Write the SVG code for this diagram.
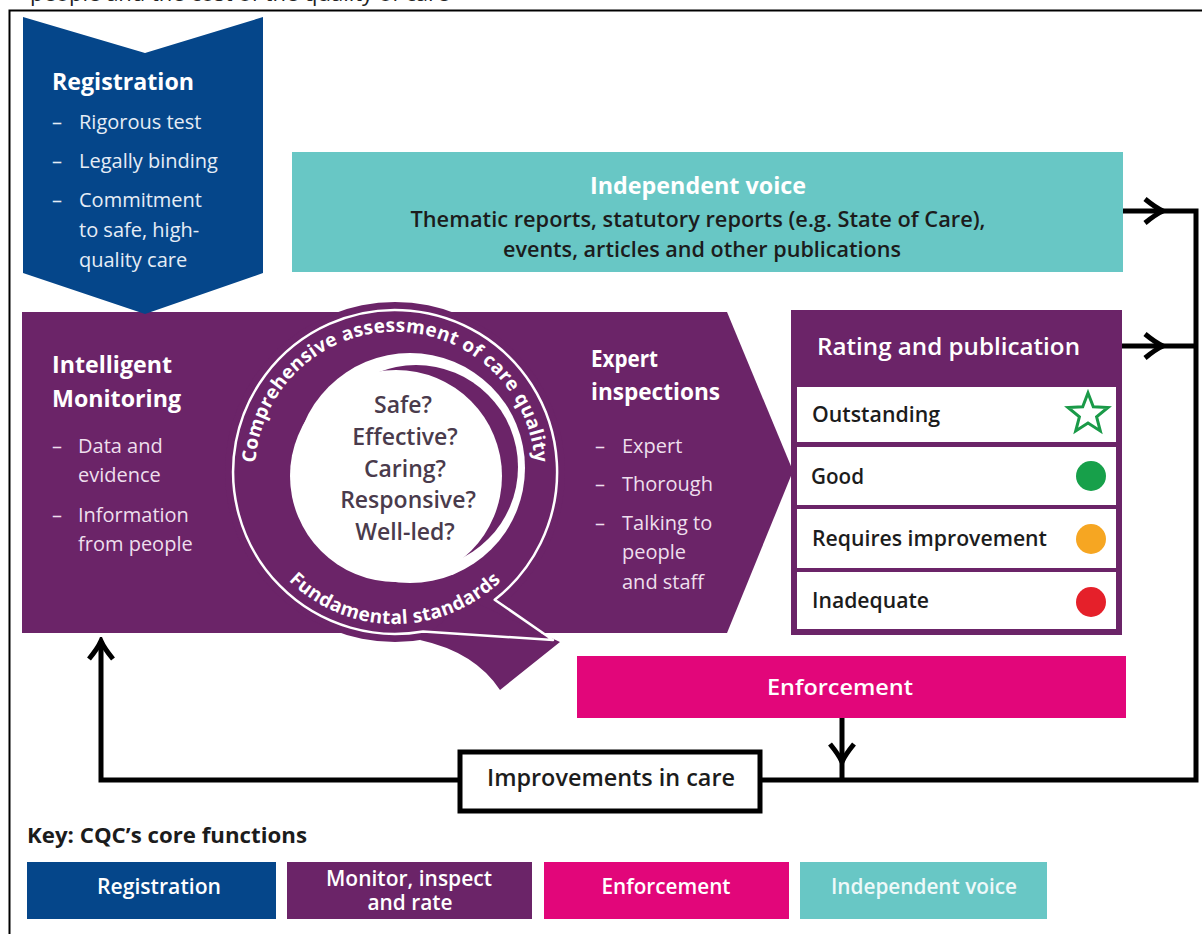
<svg xmlns="http://www.w3.org/2000/svg" width="1202" height="934" viewBox="0 0 1202 934">
<defs>
<style>
 text{font-family:"Open Sans","Noto Sans","DejaVu Sans",sans-serif}
 .b{font-weight:700}
 .sb{font-weight:600}
 .w{fill:#ffffff}
 .lav{fill:#eedfed}
 .lb{fill:#e6edf6}
 .dk{fill:#1c1c1c}
 .q{fill:#4a3b4c;font-weight:600;font-size:23px;text-anchor:middle}
 .row{font-weight:600;font-size:21px;fill:#1c1c1c}
 .ln{fill:none;stroke:#000;stroke-width:5;stroke-linejoin:miter;stroke-linecap:butt}
 .blue{fill:#05468a}
 .purple{fill:#6b2468}
 .pink{fill:#e2067a}
 .teal{fill:#68c7c5}
</style>
<marker id="chev" markerUnits="userSpaceOnUse" viewBox="-24 -16 28 32" markerWidth="28" markerHeight="32" refX="0" refY="0" orient="auto">
 <path d="M-18,-12 Q-7,-3 0,0 Q-7,3 -18,12" fill="none" stroke="#000" stroke-width="5" stroke-miterlimit="10"/>
</marker>
<path id="arcTop" d="M255.2,479.3 A140,140 0 1,1 534.8,479.3"/>
<path id="arcBot" d="M270.5,559.2 A152,152 0 0,0 519.5,559.2"/>
</defs>

<rect width="1202" height="934" fill="#ffffff"/>

<!-- caption line running above the frame, mostly cut off -->
<text x="30" y="0.5" font-size="22" fill="#222">people and the cost of the quality of care</text>

<!-- outer frame -->
<rect x="9.5" y="10.5" width="1200" height="940" fill="none" stroke="#000" stroke-width="2"/>

<!-- connectors -->
<g id="connectors">
 <path class="ln" d="M1123,211 H1163" marker-end="url(#chev)"/>
 <path class="ln" d="M1161,211 H1196 V780 H101 V641" marker-end="url(#chev)"/>
 <path class="ln" d="M1122,346 H1163" marker-end="url(#chev)"/>
 <path class="ln" d="M1161,346 H1196"/>
 <path class="ln" d="M842,718 V762" marker-end="url(#chev)"/>
 <path class="ln" d="M842,760 V780"/>
</g>

<!-- monitor, inspect and rate band -->
<g id="monitor-band">
 <polygon class="purple" points="22,312 727,312 793,471 727,633 22,633"/>
 <text class="b w" x="52" y="373" font-size="23" textLength="120" lengthAdjust="spacingAndGlyphs">Intelligent</text>
 <text class="b w" x="52" y="407" font-size="23" textLength="129" lengthAdjust="spacingAndGlyphs">Monitoring</text>
 <text class="lav" font-size="20">
  <tspan x="52" y="453">–</tspan><tspan x="78" y="453">Data and</tspan>
  <tspan x="78" y="482">evidence</tspan>
  <tspan x="52" y="522">–</tspan><tspan x="78" y="522">Information</tspan>
  <tspan x="78" y="551">from people</tspan>
 </text>
 <text class="b w" x="591" y="367" font-size="23" textLength="67" lengthAdjust="spacingAndGlyphs">Expert</text>
 <text class="b w" x="591" y="400" font-size="23" textLength="129" lengthAdjust="spacingAndGlyphs">inspections</text>
 <text class="lav" font-size="20">
  <tspan x="595" y="453">–</tspan><tspan x="622" y="453">Expert</tspan>
  <tspan x="595" y="491">–</tspan><tspan x="622" y="491">Thorough</tspan>
  <tspan x="595" y="530">–</tspan><tspan x="622" y="530">Talking to</tspan>
  <tspan x="622" y="559">people</tspan>
  <tspan x="622" y="589">and staff</tspan>
 </text>
</g>

<!-- quality "Q" emblem -->
<g id="quality-emblem">
 <circle class="purple" cx="395" cy="472" r="170"/>
 <path class="purple" d="M470,600 L560,642 L500,690 Q475,652 420,640 Z"/>
 <path d="M553,640 L494.7,599.7 A162,162 0 1,0 423.1,631.5 Z" fill="none" stroke="#fff" stroke-width="2.5" stroke-linejoin="round"/>
 <circle cx="410" cy="468" r="115" fill="#fff"/>
 <circle class="purple" cx="416" cy="467" r="102"/>
 <circle cx="396" cy="476" r="106" fill="#fff"/>
 <text class="b w" font-size="19" letter-spacing="0.4"><textPath href="#arcTop" startOffset="50%" text-anchor="middle">Comprehensive assessment of care quality</textPath></text>
 <text class="b w" font-size="19" letter-spacing="0.4"><textPath href="#arcBot" startOffset="50%" text-anchor="middle">Fundamental standards</textPath></text>
 <text class="q" x="403" y="413">Safe?</text>
 <text class="q" x="405" y="445">Effective?</text>
 <text class="q" x="405" y="477">Caring?</text>
 <text class="q" x="408" y="508">Responsive?</text>
 <text class="q" x="405" y="540">Well-led?</text>
</g>

<!-- registration chevron -->
<g id="registration">
 <polygon class="blue" points="23,17 145,53 263,17 263,273 145,314 23,273"/>
 <text class="b w" x="52" y="90" font-size="23" textLength="142" lengthAdjust="spacingAndGlyphs">Registration</text>
 <text class="lb" font-size="20">
  <tspan x="52" y="129">–</tspan><tspan x="79" y="129">Rigorous test</tspan>
  <tspan x="52" y="168">–</tspan><tspan x="79" y="168">Legally binding</tspan>
  <tspan x="52" y="207">–</tspan><tspan x="79" y="207">Commitment</tspan>
  <tspan x="79" y="237">to safe, high-</tspan>
  <tspan x="79" y="267">quality care</tspan>
 </text>
</g>

<!-- independent voice -->
<g id="independent-voice">
 <rect class="teal" x="292" y="152" width="831" height="120"/>
 <text class="b w" x="698" y="194" font-size="23" text-anchor="middle" textLength="216" lengthAdjust="spacingAndGlyphs">Independent voice</text>
 <text class="sb dk" x="698" y="227" font-size="21" text-anchor="middle" textLength="575" lengthAdjust="spacingAndGlyphs">Thematic reports, statutory reports (e.g. State of Care),</text>
 <text class="sb dk" x="702" y="257" font-size="21" text-anchor="middle" textLength="398" lengthAdjust="spacingAndGlyphs">events, articles and other publications</text>
</g>

<!-- rating and publication -->
<g id="rating">
 <rect class="purple" x="791" y="310" width="331" height="325"/>
 <text class="sb w" x="817" y="355" font-size="23" textLength="263" lengthAdjust="spacingAndGlyphs">Rating and publication</text>
 <rect x="797" y="387" width="319" height="55" fill="#fff"/>
 <rect x="797" y="447" width="319" height="58" fill="#fff"/>
 <rect x="797" y="509" width="319" height="59" fill="#fff"/>
 <rect x="797" y="572" width="319" height="57" fill="#fff"/>
 <text class="row" x="812" y="422" textLength="128" lengthAdjust="spacingAndGlyphs">Outstanding</text>
 <text class="row" x="811" y="484" textLength="53" lengthAdjust="spacingAndGlyphs">Good</text>
 <text class="row" x="812" y="546" textLength="235" lengthAdjust="spacingAndGlyphs">Requires improvement</text>
 <text class="row" x="812" y="608" textLength="117" lengthAdjust="spacingAndGlyphs">Inadequate</text>
 <polygon points="1088,393 1093.3,406.7 1108,407.5 1096.6,416.8 1100.3,431 1088,423 1075.7,431 1079.4,416.8 1068,407.5 1082.7,406.7" fill="none" stroke="#1a9a48" stroke-width="3" stroke-linejoin="miter"/>
 <circle cx="1091" cy="476" r="15" fill="#17a04a"/>
 <circle cx="1091" cy="539" r="15" fill="#f6a622"/>
 <circle cx="1091" cy="602" r="15" fill="#e5202a"/>
</g>

<!-- enforcement -->
<g id="enforcement">
 <rect class="pink" x="577" y="656" width="549" height="62"/>
 <text class="sb w" x="840" y="695" font-size="22" text-anchor="middle" textLength="146" lengthAdjust="spacingAndGlyphs">Enforcement</text>
</g>

<!-- improvements in care -->
<g id="improvements">
 <rect x="460" y="752" width="300" height="59" fill="#fff" stroke="#000" stroke-width="5"/>
 <text class="sb dk" x="611" y="786" font-size="23" text-anchor="middle" textLength="248" lengthAdjust="spacingAndGlyphs">Improvements in care</text>
</g>

<!-- key -->
<g id="key">
 <text class="b dk" x="27" y="843" font-size="21" textLength="280" lengthAdjust="spacingAndGlyphs">Key: CQC’s core functions</text>
 <rect class="blue" x="27" y="862" width="249" height="57"/>
 <text class="sb w" x="159" y="894" font-size="21" text-anchor="middle" textLength="124" lengthAdjust="spacingAndGlyphs">Registration</text>
 <rect class="purple" x="287" y="862" width="245" height="57"/>
 <text class="sb w" x="409" y="886" font-size="21" text-anchor="middle" textLength="166" lengthAdjust="spacingAndGlyphs">Monitor, inspect</text>
 <text class="sb w" x="410" y="910" font-size="21" text-anchor="middle" textLength="85" lengthAdjust="spacingAndGlyphs">and rate</text>
 <rect class="pink" x="544" y="862" width="245" height="57"/>
 <text class="sb w" x="666" y="894" font-size="21" text-anchor="middle" textLength="129" lengthAdjust="spacingAndGlyphs">Enforcement</text>
 <rect class="teal" x="800" y="862" width="247" height="57"/>
 <text class="sb" x="924" y="894" font-size="21" fill="#eef9f9" text-anchor="middle" textLength="186" lengthAdjust="spacingAndGlyphs">Independent voice</text>
</g>
</svg>
